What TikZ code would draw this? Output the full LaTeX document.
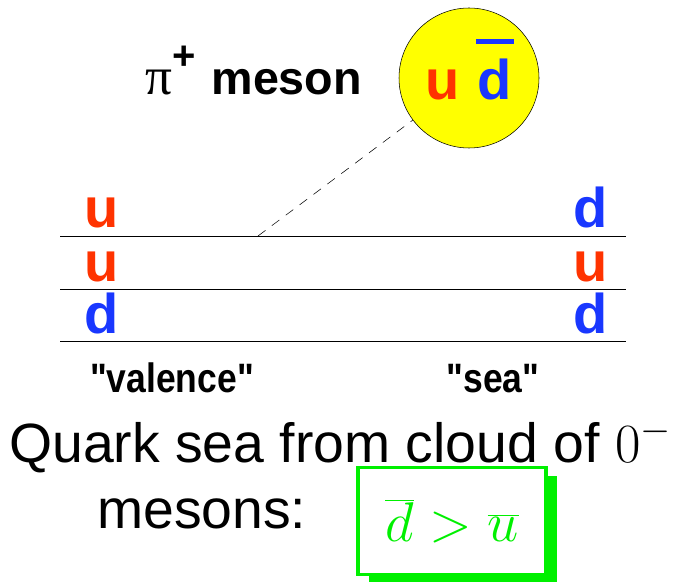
\documentclass[tikz,border=0pt]{standalone}
\usepackage{fix-cm}
\usepackage[no-math]{fontspec}
\setmainfont{Liberation Sans}
\newfontfamily\greekfont{Liberation Serif}
\usetikzlibrary{positioning,shadows}
\definecolor{quarkred}{RGB}{255,51,0}
\definecolor{quarkblue}{RGB}{25,55,255}
\definecolor{cloudyellow}{RGB}{255,255,0}
\definecolor{ineqgreen}{RGB}{0,240,0}

\begin{document}
\begin{tikzpicture}[
    x=0.75pt, y=-0.75pt,
    quark/.style={font=\fontsize{42}{46}\selectfont\bfseries, anchor=base, inner sep=0pt},
    upq/.style={quark, text=quarkred},
    downq/.style={quark, text=quarkblue},
    tag/.style={font=\fontsize{28}{30}\selectfont\bfseries, anchor=base, inner sep=0pt},
    bigtext/.style={font=\fontsize{41.5}{46}\selectfont, anchor=base west, inner sep=0pt},
    seaq/.style={thin}
]
\useasboundingbox (0,0) rectangle (673,584);

% Pion cloud
\node[circle, draw, thin, fill=cloudyellow, minimum size=105pt, inner sep=0pt] (pion) at (469,78) {};
\node[upq] (pu) at (443,100) {u};
\node[downq] (pd) at (495,100) {d};
\draw[quarkblue, line width=3.5pt] ([xshift=-1pt,yshift=13pt]pd.north west) -- ([xshift=1pt,yshift=13pt]pd.north east);

% Title
\node[anchor=base west, inner sep=0pt, font=\fontsize{35}{40}\selectfont] (title) at (145,95)
    {{\greekfont\fontsize{40}{40}\selectfont π}\raisebox{19pt}{\bfseries\fontsize{30}{30}\selectfont +}\hspace{12pt}\bfseries meson};

% Quark lines
\draw[seaq] (60,236) -- (626,236);
\draw[seaq] (60,289) -- (626,289);
\draw[seaq] (60,341) -- (626,341);
\coordinate (vtx) at (258,236);
\draw[dashed, thin, dash pattern=on 7pt off 6pt] (vtx) -- (pion);

% Valence quarks
\node[upq] (v1) at (102,228) {u};
\node[upq] (v2) at (102,281) {u};
\node[downq] (v3) at (102,333) {d};

% Sea quarks
\node[downq] (s1) at (591,228) {d};
\node[upq] (s2) at (591,281) {u};
\node[downq] (s3) at (591,333) {d};

% Labels
\node[tag] (valence) at (172,392) {\scalebox{0.95}[1.1]{\textquotedbl valence\textquotedbl}};
\node[tag] (sea) at (493,392) {\scalebox{0.95}[1.1]{\textquotedbl sea\textquotedbl}};

% Caption
\node[bigtext] (seatext) at (9,462) {Quark sea from cloud of $0^-$};
\node[bigtext] (mesontext) at (97,528) {mesons:};
\node[draw=ineqgreen, line width=2.5pt, fill=white, minimum width=141pt, minimum height=80pt,
    drop shadow={shadow xshift=8pt, shadow yshift=-6pt, fill=ineqgreen, opacity=1},
    text=ineqgreen, font=\fontsize{42}{46}\selectfont] (ineq) at (452,521) {$\overline{d}>\overline{u}$};

\end{tikzpicture}
\end{document}
